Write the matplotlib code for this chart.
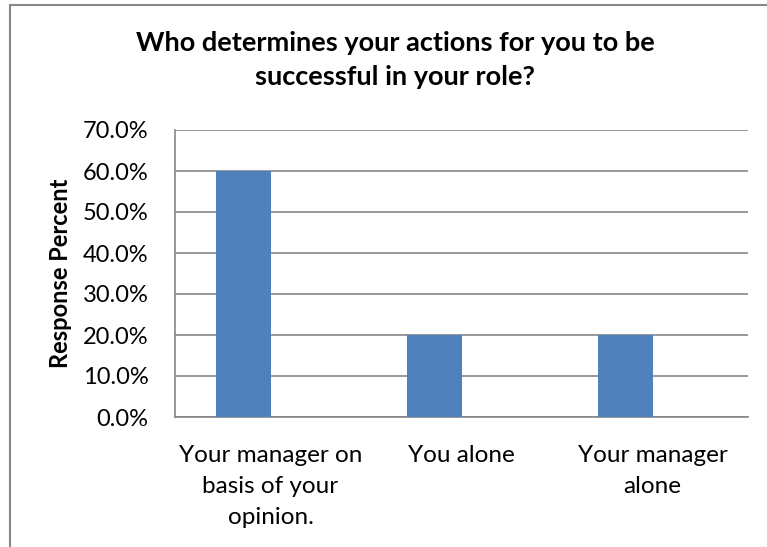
import numpy as np
import matplotlib.pyplot as plt
from matplotlib.patches import Rectangle

categories = ["Your manager on\nbasis of your\nopinion.", "You alone", "Your manager\nalone"]
response_pct = [60.0, 20.0, 20.0]
y_ticks = [0, 10, 20, 30, 40, 50, 60, 70]

plt.rcParams['font.family'] = ['Lato', 'DejaVu Sans']

W, H = 767, 547
fig = plt.figure(figsize=(W / 100, H / 100), dpi=100)

# outer chart frame
fig.patches.append(Rectangle((10 / W, -0.1), 1.1, 1 - 4.5 / H + 0.1, transform=fig.transFigure,
                             fill=False, edgecolor='#878787', lw=1.5))

ax = fig.add_axes([175 / W, 1 - 417 / H, (748 - 175) / W, (417 - 130) / H])

x = np.arange(len(categories))
bw = 0.283
ax.bar(x - bw / 2, response_pct, width=bw, color='#4F81BD', zorder=3)

ax.set_xlim(-0.5, len(categories) - 0.5)
ax.set_ylim(0, 70)
ax.set_yticks(y_ticks)
ax.set_yticklabels([f"{v:.1f}%" for v in y_ticks], fontsize=17)
ax.set_xticks(x)
ax.set_xticklabels(categories, fontsize=17.5, linespacing=1.6, va='top')
ax.tick_params(axis='both', length=0, colors='black')
ax.tick_params(axis='y', pad=19)
ax.tick_params(axis='x', pad=20)
ax.yaxis.grid(True, color='#868686', lw=1.2, zorder=0)

for side in ['top', 'right']:
    ax.spines[side].set_visible(False)
ax.spines['left'].set_color('#868686')
ax.spines['bottom'].set_color('#868686')
ax.spines['left'].set_linewidth(1.2)
ax.spines['bottom'].set_linewidth(1.2)

ax.set_ylabel("Response Percent", fontsize=17, fontweight='bold', labelpad=8)

fig.text(395 / W, 1 - 60 / H, "Who determines your actions for you to be\nsuccessful in your role?",
         ha='center', va='center', fontsize=19.5, fontweight='bold', linespacing=1.52)

fig.savefig("out.png", dpi=100)
